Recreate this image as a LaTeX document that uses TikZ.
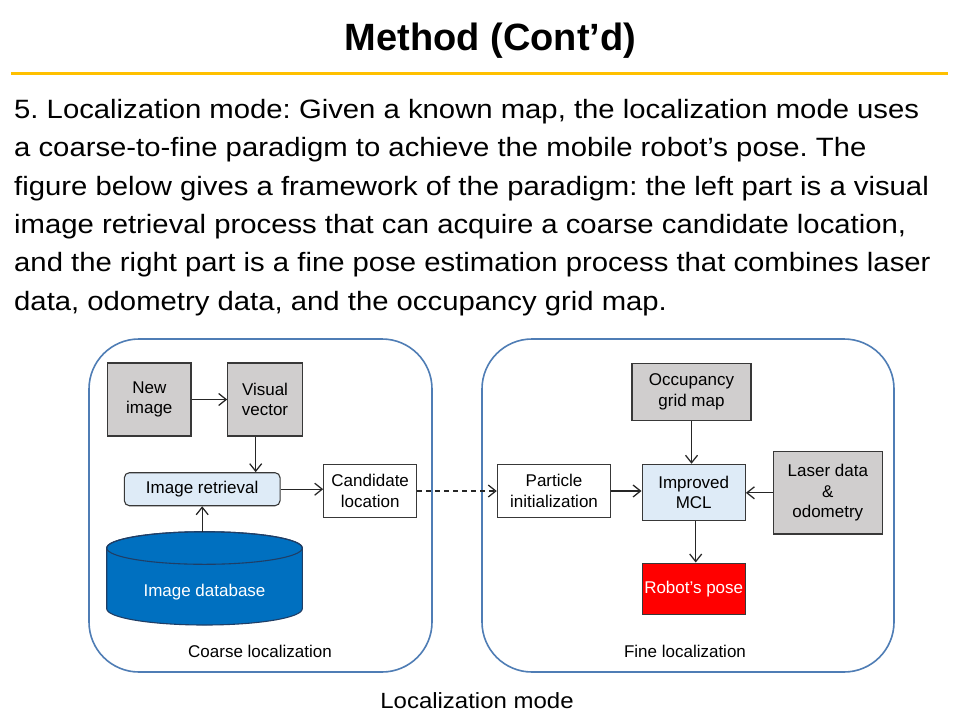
\documentclass[tikz,border=0pt]{standalone}
\usepackage{fontspec}
\setmainfont{Liberation Sans}
\newfontfamily\slidefont{Liberation Sans}[FakeStretch=1.105]
\newfontfamily\capfont{Liberation Sans}[FakeStretch=1.09]
\usetikzlibrary{arrows.meta}
\definecolor{gold}{HTML}{FFC000}
\definecolor{frameblue}{HTML}{4F7DB5}
\definecolor{boxgray}{HTML}{D0CECE}
\definecolor{lightblue}{HTML}{DEEBF7}
\definecolor{dbblue}{HTML}{0070C0}
\definecolor{dbedge}{HTML}{1F3E66}
\definecolor{edge}{HTML}{383838}
\frenchspacing
\begin{document}
\begin{tikzpicture}[x=1pt,y=-1pt,
  container/.style={draw=frameblue, line width=1.6pt, rounded corners=50pt, inner sep=0pt},
  blk/.style={draw=edge, line width=1.1pt, inner sep=0pt, align=center,
    font=\fontsize{17}{20.5}\selectfont},
  graybox/.style={blk, fill=boxgray},
  whitebox/.style={blk, fill=white},
  bluebox/.style={blk, fill=lightblue},
  arr/.style={-{Straight Barb[length=7.5pt,width=12pt]}, line width=1.25pt, draw=black!85},
  bodyline/.style={anchor=base west, inner sep=0pt, font=\slidefont\fontsize{26.5}{30}\selectfont},
  lbl/.style={anchor=base, inner sep=0pt, font=\fontsize{17}{20}\selectfont}
]
\useasboundingbox (0,0) rectangle (960,720);
\fill[white] (0,0) rectangle (960,720);

% title
\node[anchor=base, inner sep=0pt, font=\fontsize{38}{44}\bfseries\selectfont] (title) at (490.5,50) {Method (Cont’d)};
\draw[gold, line width=3pt] (11,73.2) -- (948,73.2);

% body text
\node[bodyline] (l1) at (14,118.3) {5. Localization mode: Given a known map, the localization mode uses};
\node[bodyline] (l2) at (14,156.7) {a coarse-to-fine paradigm to achieve the mobile robot’s pose. The};
\node[bodyline] (l3) at (14,195.1) {figure below gives a framework of the paradigm: the left part is a visual};
\node[bodyline] (l4) at (14,233.5) {image retrieval process that can acquire a coarse candidate location,};
\node[bodyline] (l5) at (14,271.9) {and the right part is a fine pose estimation process that combines laser};
\node[bodyline] (l6) at (14,310.3) {data, odometry data, and the occupancy grid map.};

% containers
\node[container, minimum width=343pt, minimum height=333pt] (coarse) at (260.5,505.5) {};
\node[container, minimum width=412pt, minimum height=333pt] (fine) at (688,505.5) {};
\node[lbl] (coarselbl) at (260,657.7) {Coarse localization};
\node[lbl] (finelbl) at (685,657.7) {Fine localization};

% left part
\node[graybox, minimum width=83.3pt, minimum height=73pt] (newimg) at (149.3,399.5) {New\\image};
\node[graybox, minimum width=74.6pt, minimum height=73pt] (visvec) at (265,399.5) {Visual\\vector};
\node[bluebox, rounded corners=5pt, minimum width=155.7pt, minimum height=33pt] (imgret) at (202.2,489.2) {Image retrieval};
\node[whitebox, minimum width=93pt, minimum height=53.4pt] (cand) at (370.2,491) {Candidate\\location};

% cylinder database (radii are canvas lengths: 90 deg is up)
\filldraw[fill=dbblue, draw=dbedge, line width=1.1pt]
  (106.7,548) -- (106.7,608.7)
  arc[start angle=180, end angle=360, x radius=97.8pt, y radius=16.3pt]
  -- (302.3,548)
  arc[start angle=0, end angle=180, x radius=97.8pt, y radius=16.3pt] -- cycle;
\draw[dbedge, line width=1.1pt] (204.5,548) ellipse [x radius=97.8pt, y radius=16.3pt];
\coordinate (dbtop) at (202.2,531.7);
\node[inner sep=0pt, text=white, font=\fontsize{17}{20}\selectfont] (db) at (204.5,591.7) {Image database};

% right part
\node[graybox, minimum width=119pt, minimum height=57.4pt] (occ) at (691.5,392) {Occupancy\\grid map};
\node[whitebox, minimum width=113.4pt, minimum height=53.4pt] (part) at (554,491) {Particle\\initialization};
\node[bluebox, minimum width=103.3pt, minimum height=56.4pt] (mcl) at (693.7,492.5) {Improved\\MCL};
\node[graybox, minimum width=109pt, minimum height=82.3pt] (laser) at (827.8,492.8) {Laser data\\\&\\odometry};
\node[blk, fill=red, text=white, minimum width=103.3pt, minimum height=51.3pt] (pose) at (693.7,588.7) {Robot’s pose};

% arrows
\draw[arr] (newimg.east) -- (visvec.west);
\draw[arr] ([xshift=-9.3pt]visvec.south) -- ([xshift=-9.3pt]visvec.south |- imgret.north);
\draw[arr] (dbtop) -- (imgret.south);
\draw[arr] (imgret.east) -- (imgret.east -| cand.west);
\draw[arr, dash pattern=on 5pt off 4pt] (cand.east) -- (part.west);
\draw[arr] (part.east) -- (part.east -| mcl.west);
\draw[arr] (laser.west) -- (laser.west -| mcl.east);
\draw[arr] (occ.south) -- (occ.south |- mcl.north);
\draw[arr] ([xshift=2pt]mcl.south) -- ([xshift=2pt]pose.north);

% caption
\node[anchor=base, inner sep=0pt, font=\capfont\fontsize{22}{26}\selectfont] (caption) at (477,708.3) {Localization mode};
\end{tikzpicture}
\end{document}
